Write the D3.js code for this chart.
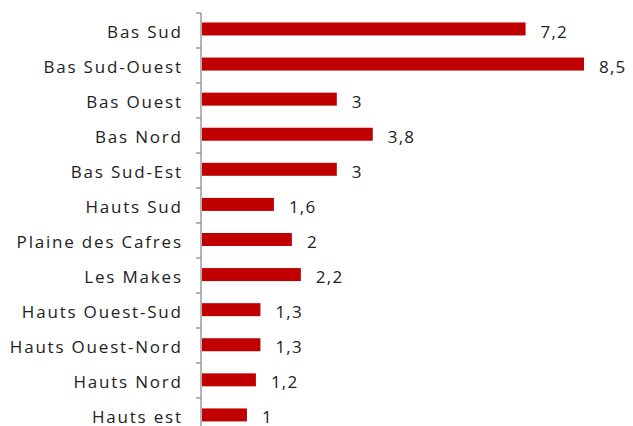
<!DOCTYPE html>
<html><head><meta charset="utf-8">
<script src="https://cdn.jsdelivr.net/npm/d3@7"></script>
<style>
html,body{margin:0;padding:0;background:#fff;}
svg{display:block;}
</style></head>
<body>
<svg id="chart" width="633" height="426"></svg>
<script>
const categories = ["Bas Sud","Bas Sud-Ouest","Bas Ouest","Bas Nord","Bas Sud-Est","Hauts Sud","Plaine des Cafres","Les Makes","Hauts Ouest-Sud","Hauts Ouest-Nord","Hauts Nord","Hauts est"];
const values = [7.2,8.5,3,3.8,3,1.6,2,2.2,1.3,1.3,1.2,1];
const valueLabels = ["7,2","8,5","3","3,8","3","1,6","2","2,2","1,3","1,3","1,2","1"];

(function(){
const svg = d3.select("#chart");
const leftX = 201, topY = 13, band = 35;
const x = d3.scaleLinear().domain([0, 8.5]).range([leftX + 1, 584]);
const y = d3.scaleBand().domain(categories).range([topY, topY + band * categories.length]).paddingInner(0.63).paddingOuter(0.3).align(0.45);

const font = "'Open Sans', sans-serif";
const fs = 17, ls = 1.8;

svg.selectAll("rect.bar").data(categories).join("rect")
  .attr("class","bar")
  .attr("x", x(0))
  .attr("y", d => y(d))
  .attr("width", (d,i) => x(values[i]) - x(0))
  .attr("height", y.bandwidth())
  .attr("fill", "#C00000");

svg.append("line").attr("x1", leftX).attr("x2", leftX).attr("y1", topY).attr("y2", topY + band*categories.length)
  .attr("stroke", "#8c8c8c").attr("stroke-width", 1.3);
const bounds = d3.range(categories.length + 1).map(i => topY + i*band);
svg.selectAll("line.tick").data(bounds).join("line")
  .attr("class","tick")
  .attr("x1", leftX - 5).attr("x2", leftX)
  .attr("y1", d => d).attr("y2", d => d)
  .attr("stroke", "#8c8c8c").attr("stroke-width", 1.3);

const cy = d => topY + band * categories.indexOf(d) + band/2;

svg.selectAll("text.cat").data(categories).join("text")
  .attr("class","cat")
  .attr("x", 181 + ls)
  .attr("y", d => cy(d))
  .attr("dy", "0.42em")
  .attr("text-anchor", "end")
  .attr("font-family", font)
  .attr("font-size", fs)
  .attr("letter-spacing", ls)
  .attr("fill", "#222")
  .text(d => d);

svg.selectAll("text.val").data(categories).join("text")
  .attr("class","val")
  .attr("x", (d,i) => x(values[i]) + 15)
  .attr("y", d => cy(d))
  .attr("dy", "0.42em")
  .attr("font-family", font)
  .attr("font-size", fs)
  .attr("letter-spacing", 1.2)
  .attr("fill", "#222")
  .text((d,i) => valueLabels[i]);
})();
</script>
</body></html>
